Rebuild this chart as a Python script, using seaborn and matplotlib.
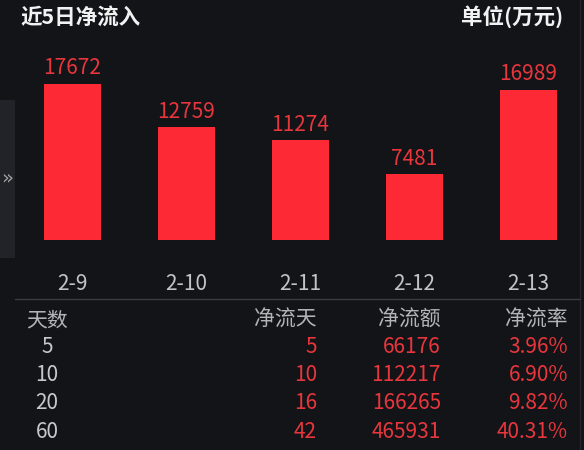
import matplotlib
matplotlib.use("Agg")
import matplotlib.pyplot as plt
import seaborn as sns
import pandas as pd

# ---- data ----
dates = ["2-9", "2-10", "2-11", "2-12", "2-13"]
inflow = [17672, 12759, 11274, 7481, 16989]

table_days = [5, 10, 20, 60]
table_net_days = [5, 10, 16, 42]
table_net_amount = [66176, 112217, 166265, 465931]
table_net_rate = [3.96, 6.90, 9.82, 40.31]
table_headers = ["天数", "净流天", "净流额", "净流率"]

title = "近5日净流入"
unit = "单位(万元)"

# ---- style ----
BG = "#131418"
BAR = "#fd2a35"
RED = "#e8363d"
GRAY = "#b4b4b6"
WHITE = "#f2f2f2"

sns.set_theme(style="dark")
plt.rcParams['font.family'] = ['Noto Sans CJK SC', 'DejaVu Sans']

W, H = 584, 450
fig = plt.figure(figsize=(W / 100, H / 100), dpi=100, facecolor=BG)


def fx(px):
    return px / W


def fy(py):
    return 1 - py / H


# bar axes: x from 15.5 to 585.5 px, y from 40 to 240 px (top-origin)
ax = fig.add_axes([fx(15.5), fy(240), fx(570), 200 / H])
ax.set_facecolor(BG)
df = pd.DataFrame({"date": dates, "inflow": inflow})
sns.barplot(data=df, x="date", y="inflow", color=BAR, width=0.5,
            saturation=1, linewidth=0, edgecolor=BAR, ax=ax)
ax.set_xlim(-0.5, 4.5)
ax.set_ylim(0, 22600)
for c in ax.containers:
    ax.bar_label(c, labels=[str(v) for v in inflow], padding=3,
                 color=RED, fontsize=15)
ax.set_xlabel("")
ax.set_ylabel("")
ax.set_yticks([])
ax.tick_params(axis="x", length=0, pad=24, labelsize=15, labelcolor="#c4c4c6")
for s in ax.spines.values():
    s.set_visible(False)
ax.grid(False)

# left tab
tab = plt.Rectangle((0, fy(258)), fx(15), (258 - 100) / H,
                    transform=fig.transFigure, facecolor="#222328",
                    edgecolor="none", zorder=0)
fig.patches.append(tab)
fig.text(fx(7), fy(178), "»", color="#a0a0a2", fontsize=14,
         ha="center", va="center", family=["DejaVu Sans"])

# right edge line
fig.add_artist(plt.Line2D([fx(580), fx(580)], [0, 1],
                          transform=fig.transFigure, color="#25262b", lw=1))

# title / unit
fig.text(fx(20), fy(17), title, color=WHITE, fontsize=15.5, fontweight="bold",
         ha="left", va="center")
fig.text(fx(563), fy(17), unit, color=WHITE, fontsize=15.5, fontweight="bold",
         ha="right", va="center")

# separator
fig.add_artist(plt.Line2D([fx(15), fx(580)], [fy(299), fy(299)],
                          transform=fig.transFigure, color="#3b3c41", lw=1))

# table
row_y = [320, 347, 375, 403, 432]
col_right = [317, 441, 568]
fig.text(fx(26), fy(row_y[0]), table_headers[0], color=GRAY, fontsize=15,
         ha="left", va="center")
for xr, h in zip(col_right, table_headers[1:]):
    fig.text(fx(xr), fy(row_y[0]), h, color=GRAY, fontsize=15,
             ha="right", va="center")
for i in range(len(table_days)):
    y = fy(row_y[i + 1])
    fig.text(fx(47), y, str(table_days[i]), color="#c8c8ca", fontsize=15,
             ha="center", va="center")
    fig.text(fx(col_right[0]), y, str(table_net_days[i]), color=RED,
             fontsize=15, ha="right", va="center")
    fig.text(fx(col_right[1]), y, str(table_net_amount[i]), color=RED,
             fontsize=15, ha="right", va="center")
    fig.text(fx(col_right[2]), y, f"{table_net_rate[i]:.2f}%", color=RED,
             fontsize=15, ha="right", va="center")

fig.savefig("out.png", dpi=100, facecolor=BG)
